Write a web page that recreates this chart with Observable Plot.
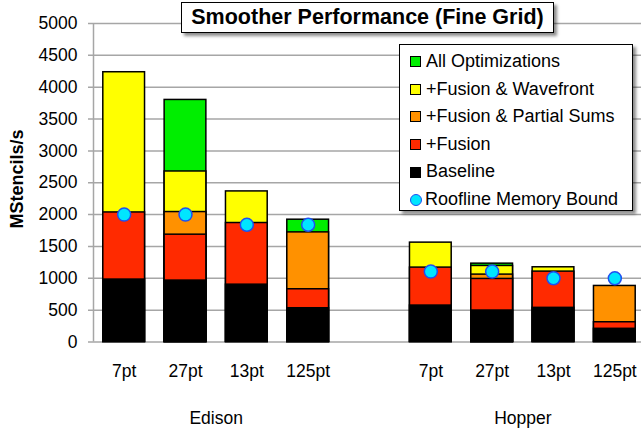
<!DOCTYPE html>
<html>
<head>
<meta charset="utf-8">
<script src="https://cdn.jsdelivr.net/npm/d3@7"></script>
<script src="https://cdn.jsdelivr.net/npm/@observablehq/plot@0.6"></script>
<style>
  html, body { margin: 0; padding: 0; background: #fff; overflow: hidden; }
  #wrap { position: relative; width: 641px; height: 430px; font-family: Arial, "Liberation Sans", sans-serif; }
  #wrap svg { position: absolute; left: 0; top: 0; overflow: visible; }
  .title { position: absolute; left: 181px; top: 2px; width: 371px; height: 29px; border: 1.5px solid #000; background: #fff;
    box-shadow: 3px 3px 3px rgba(0,0,0,0.45); font-weight: bold; font-size: 21.5px; line-height: 29px; text-align: center; color: #000; white-space: nowrap; }
  .legend { position: absolute; left: 399px; top: 44px; width: 234px; height: 167px; border: 1.5px solid #000; background: #fff;
    box-shadow: 3px 3px 3px rgba(0,0,0,0.45); box-sizing: border-box; padding-top: 3px; }
  .legend .row { height: 27.6px; line-height: 27.6px; font-size: 18px; color: #000; display: flex; align-items: center; padding-left: 10px; white-space: nowrap; }
  .legend .sw { width: 9px; height: 9px; border: 1px solid #000; margin-right: 5px; flex: none; }
  .legend .dot { width: 10px; height: 10px; border: 1.5px solid #1f4ff0; border-radius: 50%; margin-right: 3px; flex: none; background: #00e5ff; }
</style>
</head>
<body>
<div id="wrap"></div>
<script>
// ---- data ----
const machines = ["Edison", "Hopper"];
const stencils = ["7pt", "27pt", "13pt", "125pt"];
const seriesNames = ["All Optimizations", "+Fusion & Wavefront", "+Fusion & Partial Sums", "+Fusion", "Baseline"];
const seriesColors = ["#00ee00", "#ffff00", "#ff9100", "#ff2a00", "#000000"];
const rooflineName = "Roofline Memory Bound";

// Edison (7pt, 27pt, 13pt, 125pt); null = not visible in the chart
const edisonAllOpt      = [null, 3800, null, 1920];
const edisonWavefront   = [4235, 2677, 2364, null];
const edisonPartialSums = [null, 2040, null, 1721];
const edisonFusion      = [2034, 1685, 1868, 828];
const edisonBaseline    = [980, 964, 900, 530];
const edisonRoofline    = [2000, 2000, 1840, 1840];

// Hopper (7pt, 27pt, 13pt, 125pt)
const hopperAllOpt      = [null, 1230, null, null];
const hopperWavefront   = [1560, 1194, 1173, null];
const hopperPartialSums = [null, 1058, null, 880];
const hopperFusion      = [1168, 990, 1105, 310];
const hopperBaseline    = [572, 494, 536, 207];
const hopperRoofline    = [1105, 1105, 1000, 1000];

const yTicks = d3.range(0, 5001, 500);

// ---- build tables ----
const seriesByMachine = {
  Edison: [edisonAllOpt, edisonWavefront, edisonPartialSums, edisonFusion, edisonBaseline],
  Hopper: [hopperAllOpt, hopperWavefront, hopperPartialSums, hopperFusion, hopperBaseline]
};
const rooflineByMachine = {Edison: edisonRoofline, Hopper: hopperRoofline};

// slot index: Edison 0..3, gap 4, Hopper 5..8
const slotOf = (mi, si) => mi * (stencils.length + 1) + si;
const bars = [];
const points = [];
const ticks = [];
machines.forEach((m, mi) => {
  stencils.forEach((s, si) => {
    const slot = slotOf(mi, si);
    ticks.push({slot: slot + 0.5, label: s});
    points.push({slot, value: rooflineByMachine[m][si]});
  });
  seriesNames.forEach((name, k) => {
    seriesByMachine[m][k].forEach((v, si) => {
      if (v != null) bars.push({slot: slotOf(mi, si), value: v, series: name, order: k});
    });
  });
});
bars.sort((a, b) => a.order - b.order);
const groups = machines.map((m, mi) => ({
  machine: m,
  x: d3.mean(stencils, (s, si) => slotOf(mi, si) + 0.5)
}));

const plot = Plot.plot({
  width: 641,
  height: 430,
  marginLeft: 93,
  marginRight: -4,
  marginTop: 23,
  marginBottom: 88.5,
  style: {fontFamily: "Arial, 'Liberation Sans', sans-serif", fontSize: "17.5px", background: "transparent"},
  x: {type: "linear", domain: [0, 9], axis: null},
  y: {type: "linear", domain: [0, 5000], axis: null},
  color: {domain: seriesNames, range: seriesColors},
  marks: [
    Plot.ruleY(yTicks, {y: d => d, stroke: "#a6a6a6", strokeWidth: 1.5, insetLeft: -5}),
    Plot.ruleX([0], {x: d => d, stroke: "#a6a6a6", strokeWidth: 1.5}),
    Plot.text(yTicks, {x: () => 0, y: d => d, text: d => String(d), textAnchor: "end", dx: -16, fill: "#000", fontSize: 17.5}),
    Plot.rectY(bars, {x1: "slot", x2: d => d.slot + 1, y1: () => 0, y2: "value", fill: "series",
      stroke: "#000", strokeWidth: 1.5, insetLeft: 9.8, insetRight: 9.8}),
    Plot.dot(points, {x: d => d.slot + 0.5, y: "value", r: 6.5, fill: "#00e5ff", stroke: "#1f4ff0", strokeWidth: 1.5}),
    Plot.text(ticks, {x: "slot", y: () => 0, text: "label", dy: 29, fill: "#000", fontSize: 17.5}),
    Plot.text(groups, {x: "x", y: () => 0, text: "machine", dy: 76, fill: "#000", fontSize: 17.5})
  ]
});

const wrap = document.getElementById("wrap");
wrap.appendChild(plot);

// y axis label
const svg = d3.select(plot);
svg.append("text")
  .attr("transform", "translate(17,179) rotate(-90)")
  .attr("text-anchor", "middle")
  .attr("dominant-baseline", "central")
  .attr("font-weight", "bold")
  .attr("font-size", 18)
  .attr("fill", "#000")
  .text("MStencils/s");

// title
const title = document.createElement("div");
title.className = "title";
title.textContent = "Smoother Performance (Fine Grid)";
wrap.appendChild(title);

// legend
const legend = document.createElement("div");
legend.className = "legend";
seriesNames.forEach((name, i) => {
  const row = document.createElement("div");
  row.className = "row";
  const sw = document.createElement("span");
  sw.className = "sw";
  sw.style.background = seriesColors[i];
  row.appendChild(sw);
  row.appendChild(document.createTextNode(name));
  legend.appendChild(row);
});
const rrow = document.createElement("div");
rrow.className = "row";
const dot = document.createElement("span");
dot.className = "dot";
rrow.appendChild(dot);
rrow.appendChild(document.createTextNode(rooflineName));
legend.appendChild(rrow);
wrap.appendChild(legend);
</script>
</body>
</html>
